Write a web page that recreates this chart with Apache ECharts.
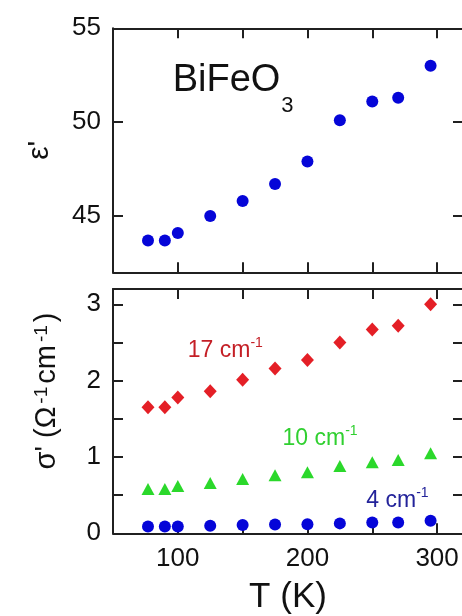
<!DOCTYPE html>
<html>
<head>
<meta charset="utf-8">
<style>
  html, body { margin: 0; padding: 0; background: #ffffff; }
  #chart { width: 462px; height: 616px; }
</style>
<script src="https://cdn.jsdelivr.net/npm/echarts@6/dist/echarts.min.js"></script>
</head>
<body>
<div id="chart"></div>
<script>
// Temperature points (K)
const temperature = [77, 90, 100, 125, 150, 175, 200, 225, 250, 270, 295];
// Real part of the dielectric permittivity
const epsilon = [43.7, 43.7, 44.1, 45.0, 45.8, 46.7, 47.9, 50.1, 51.1, 51.3, 53.0];
// Real part of the conductivity at three frequencies (Ohm^-1 cm^-1)
const sigma17 = [1.65, 1.65, 1.78, 1.86, 2.01, 2.16, 2.27, 2.50, 2.67, 2.72, 3.00];
const sigma10 = [0.58, 0.58, 0.62, 0.66, 0.71, 0.76, 0.80, 0.88, 0.93, 0.96, 1.05];
const sigma4  = [0.09, 0.09, 0.09, 0.10, 0.11, 0.115, 0.12, 0.13, 0.14, 0.14, 0.165];

// Tick labels
const tempTickLabels = [100, 200, 300];
const epsTickLabels = [45, 50, 55];
const sigmaTickLabels = [0, 1, 2, 3];

// Text annotations: [T, value] anchor of the label's top-left corner
const compoundLabel = { text: 'BiFeO', sub: '3', at: [96, 53.25] };
const freqLabels = [
  { text: '17 cm', sup: '-1', at: [107.7, 2.58], color: '#c41f26' },
  { text: '10 cm', sup: '-1', at: [180.8, 1.425], color: '#30d030' },
  { text: '4 cm',  sup: '-1', at: [245.4, 0.613], color: '#23239a' }
];

const FONT = '"Liberation Sans", Arial, Helvetica, sans-serif';
const AXIS_COLOR = '#202020';
const TEXT_COLOR = '#111111';

const zip = (xs, ys) => xs.map((x, i) => [x, ys[i]]);

const T_MIN = 50, T_MAX = 320;
const PLOT_LEFT = 113, PLOT_WIDTH = 350;

function tempAxis(gridIndex, position, showLabels, name) {
  const axis = {
    type: 'value', gridIndex, position,
    min: T_MIN, max: T_MAX, interval: 50,
    axisLine: { show: true, onZero: false, lineStyle: { color: AXIS_COLOR, width: 2 } },
    axisTick: { show: true, inside: true, length: 10, lineStyle: { color: AXIS_COLOR, width: 2 } },
    axisLabel: {
      show: showLabels, margin: 13, fontSize: 26, color: TEXT_COLOR, fontFamily: FONT,
      formatter: v => tempTickLabels.includes(v) ? String(v) : ''
    },
    splitLine: { show: false }
  };
  if (name) {
    Object.assign(axis, {
      name, nameLocation: 'middle', nameGap: 47, nameMoveOverlap: false,
      nameTextStyle: { fontSize: 35, color: TEXT_COLOR, fontFamily: FONT }
    });
  }
  return axis;
}

// Right-hand axes carry only inward ticks; their line lies past the canvas edge
function rightAxis(gridIndex, min, max, extra) {
  return Object.assign({
    type: 'value', gridIndex, position: 'right', min, max,
    axisLine: { show: false, onZero: false, lineStyle: { color: 'rgba(0,0,0,0)', width: 0 } },
    axisLabel: { show: false },
    splitLine: { show: false }
  }, extra);
}

const option = {
  backgroundColor: '#ffffff',
  animation: false,
  grid: [
    { left: PLOT_LEFT, width: PLOT_WIDTH, top: 28.3, height: 244, outerBoundsMode: 'none', containLabel: false },
    { left: PLOT_LEFT, width: PLOT_WIDTH, top: 289, height: 244.3, outerBoundsMode: 'none', containLabel: false }
  ],
  xAxis: [
    tempAxis(0, 'bottom', false),
    tempAxis(0, 'top', false),
    tempAxis(1, 'bottom', true, 'T (K)'),
    tempAxis(1, 'top', false)
  ],
  yAxis: [
    {
      type: 'value', gridIndex: 0, position: 'left', min: 42, max: 55,
      axisLine: { show: true, onZero: false, lineStyle: { color: AXIS_COLOR, width: 2 } },
      axisTick: { show: true, inside: true, length: 10, customValues: epsTickLabels, lineStyle: { color: AXIS_COLOR, width: 2 } },
      axisLabel: { show: true, margin: 12, fontSize: 26, color: TEXT_COLOR, fontFamily: FONT, customValues: epsTickLabels },
      splitLine: { show: false },
      name: "ε'", nameLocation: 'middle', nameRotate: 90, nameGap: 58, nameMoveOverlap: false,
      nameTextStyle: { fontSize: 30, color: TEXT_COLOR, fontFamily: FONT }
    },
    rightAxis(0, 42, 55, {
      axisTick: { show: true, inside: true, length: 10, customValues: epsTickLabels, lineStyle: { color: AXIS_COLOR, width: 2 } }
    }),
    {
      type: 'value', gridIndex: 1, position: 'left', min: 0, max: 3.2, interval: 0.5,
      axisLine: { show: true, onZero: false, lineStyle: { color: AXIS_COLOR, width: 2 } },
      axisTick: { show: true, inside: true, length: 10, lineStyle: { color: AXIS_COLOR, width: 2 } },
      axisLabel: {
        show: true, margin: 12, fontSize: 26, color: TEXT_COLOR, fontFamily: FONT,
        formatter: v => sigmaTickLabels.includes(v) ? String(v) : ''
      },
      splitLine: { show: false },
      // leading blank run moves the title toward the top of the panel
      name: "{b|\u00a0\u00a0\u00a0\u00a0\u00a0σ' (Ω}{s|-1}{b|cm}{s|-1}{b|)}",
      nameLocation: 'middle', nameRotate: 90, nameGap: 52, nameMoveOverlap: false,
      nameTextStyle: {
        color: TEXT_COLOR, fontFamily: FONT,
        rich: {
          b: { fontSize: 29, lineHeight: 29, color: TEXT_COLOR, fontFamily: FONT },
          s: { fontSize: 19, lineHeight: 19, padding: [0, 3, 0, 3], verticalAlign: 'top', color: TEXT_COLOR, fontFamily: FONT }
        }
      }
    },
    rightAxis(1, 0, 3.2, {
      interval: 0.5,
      axisTick: { show: true, inside: true, length: 10, lineStyle: { color: AXIS_COLOR, width: 2 } }
    })
  ],
  series: [
    {
      name: 'epsilon', type: 'scatter', xAxisIndex: 0, yAxisIndex: 0,
      symbol: 'circle', symbolSize: 12,
      itemStyle: { color: '#0505d8', opacity: 1 },
      data: zip(temperature, epsilon)
    },
    {
      name: '17 cm-1', type: 'scatter', xAxisIndex: 2, yAxisIndex: 2,
      symbol: 'diamond', symbolSize: [13, 14],
      itemStyle: { color: '#e41f26', opacity: 1 },
      data: zip(temperature, sigma17)
    },
    {
      name: '10 cm-1', type: 'scatter', xAxisIndex: 2, yAxisIndex: 2,
      symbol: 'triangle', symbolSize: [13, 12],
      itemStyle: { color: '#2bd82b', opacity: 1 },
      data: zip(temperature, sigma10)
    },
    {
      name: '4 cm-1', type: 'scatter', xAxisIndex: 2, yAxisIndex: 2,
      symbol: 'circle', symbolSize: 12,
      itemStyle: { color: '#0505d8', opacity: 1 },
      data: zip(temperature, sigma4)
    },
    // Compound name in the permittivity panel
    {
      type: 'scatter', xAxisIndex: 0, yAxisIndex: 0, silent: true,
      symbolSize: 0, itemStyle: { color: 'transparent', opacity: 1 },
      label: {
        show: true, position: [0, 0], align: 'left', verticalAlign: 'top', opacity: 1,
        formatter: '{b|' + compoundLabel.text + '}{n|' + compoundLabel.sub + '}',
        rich: {
          b: { fontSize: 38, lineHeight: 40, verticalAlign: 'top', color: TEXT_COLOR, fontFamily: FONT },
          n: { fontSize: 22, lineHeight: 22, padding: [34, 0, 0, 1], verticalAlign: 'top', color: TEXT_COLOR, fontFamily: FONT }
        }
      },
      data: [compoundLabel.at]
    },
    // Frequency labels in the conductivity panel
    ...freqLabels.map(f => ({
      type: 'scatter', xAxisIndex: 2, yAxisIndex: 2, silent: true,
      symbolSize: 0, itemStyle: { color: 'transparent', opacity: 1 },
      label: {
        show: true, position: [0, 0], align: 'left', verticalAlign: 'top', opacity: 1,
        formatter: '{b|' + f.text + '}{s|' + f.sup + '}',
        rich: {
          b: { fontSize: 23, lineHeight: 28, color: f.color, fontFamily: FONT },
          s: { fontSize: 14, lineHeight: 14, verticalAlign: 'top', color: f.color, fontFamily: FONT }
        }
      },
      data: [f.at]
    }))
  ]
};

const chart = echarts.init(document.getElementById('chart'), null, { renderer: 'canvas' });
chart.setOption(option);
</script>
</body>
</html>
